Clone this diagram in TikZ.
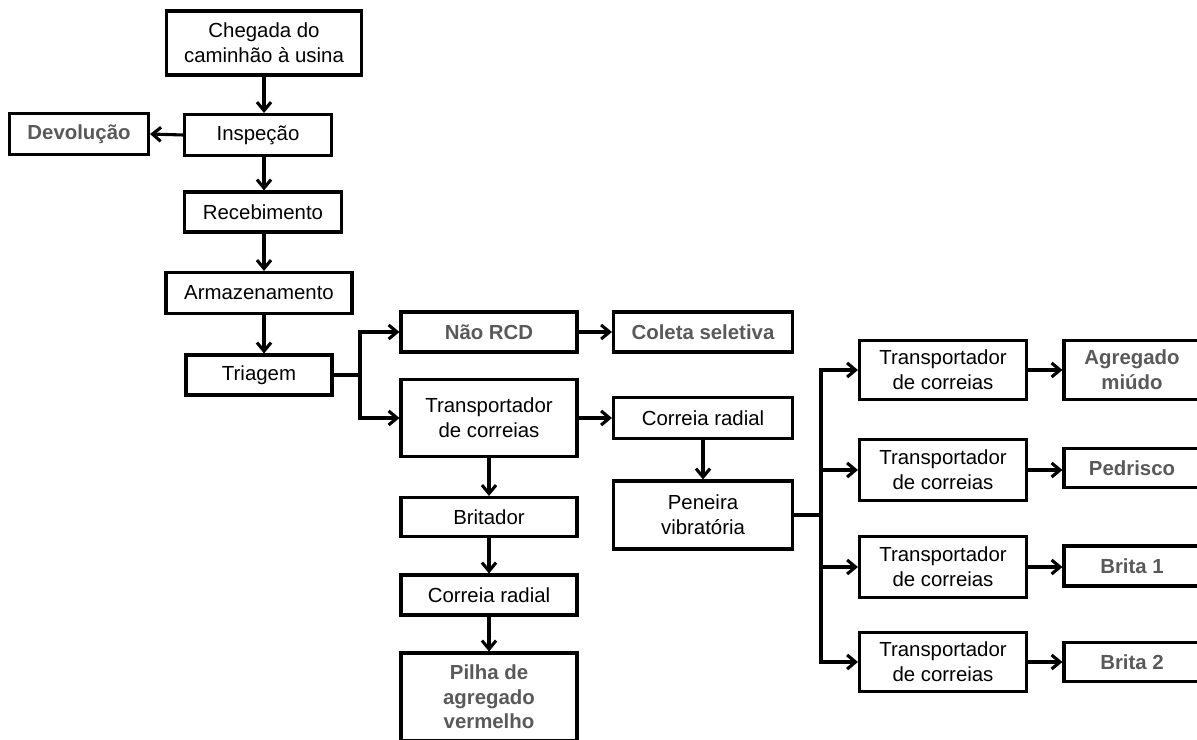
\documentclass[tikz,border=0pt]{standalone}
\usepackage{fontspec}
\setmainfont{Liberation Sans}
\usetikzlibrary{arrows.meta}
\begin{document}
\begin{tikzpicture}[x=0.025cm,y=-0.025cm,line width=2.2pt]
  \tikzset{BoxStyle/.style 2 args = {shape          = rectangle,
                                 draw           = black,
                                 text           = black,
                                 align          = center,
                                 inner sep      = 0pt,
                                 minimum width  = #1*0.025cm,
                                 minimum height = #2*0.025cm,
                                 font           = \fontsize{14.5}{17.5}\selectfont}}
  \tikzset{EndStyle/.style   = {text           = black!65,
                                 font           = \fontsize{14.5}{17.5}\selectfont\bfseries}}
  \tikzset{EdgeStyle/.style  = {draw           = black,
                                 -{Straight Barb[length=6pt,width=10pt]}}}

\path[use as bounding box] (0,0) rectangle (1197,740);

\node (cheg)     at (264,43)   [BoxStyle={195}{64}] {Chegada do\\caminhão à usina};
\node (insp)     at (258,135)  [BoxStyle={147}{41}] {Inspeção};
\node (devol)    at (79,134)   [BoxStyle={139}{41},EndStyle] {Devolução};
\node (receb)    at (263,212)  [BoxStyle={157}{40}] {Recebimento};
\node (armaz)    at (259,293)  [BoxStyle={186}{41}] {Armazenamento};
\node (triag)    at (259,375)  [BoxStyle={146}{40}] {Triagem};

\node (naoRCD)   at (489,332)  [BoxStyle={176}{40},EndStyle] {Não RCD};
\node (coleta)   at (703,332)  [BoxStyle={179}{40},EndStyle] {Coleta seletiva};
\node (transp)   at (489,418)  [BoxStyle={176}{77}] {Transportador\\de correias};
\node (correiaR) at (703,418)  [BoxStyle={179}{41}] {Correia radial};
\node (peneira)  at (703,515)  [BoxStyle={179}{68}] {Peneira\\vibratória};
\node (britador) at (489,517)  [BoxStyle={176}{39}] {Britador};
\node (correiaB) at (489,595)  [BoxStyle={176}{40}] {Correia radial};
\node (pilha)    at (489,697)  [BoxStyle={176}{88},EndStyle] {Pilha de\\agregado\\vermelho};

\node (T1)       at (943,370)  [BoxStyle={167}{59}] {Transportador\\de correias};
\node (T2)       at (943,470)  [BoxStyle={167}{61}] {Transportador\\de correias};
\node (T3)       at (943,567)  [BoxStyle={167}{61}] {Transportador\\de correias};
\node (T4)       at (943,662)  [BoxStyle={167}{59}] {Transportador\\de correias};
\node (agreg)    at (1132,370) [BoxStyle={136}{59},EndStyle] {Agregado\\miúdo};
\node (pedr)     at (1132,468) [BoxStyle={136}{39},EndStyle] {Pedrisco};
\node (brita1)   at (1132,566) [BoxStyle={136}{40},EndStyle] {Brita 1};
\node (brita2)   at (1132,662) [BoxStyle={136}{39},EndStyle] {Brita 2};

\coordinate (S1) at (360,375);
\coordinate (S2) at (821,515);

\draw[EdgeStyle] (cheg.south) -- (cheg.south |- insp.north);
\draw[EdgeStyle] (insp.west) -- (devol.east);
\draw[EdgeStyle] (insp.south -| cheg.south) -- (receb.north -| cheg.south);
\draw[EdgeStyle] (receb.south -| cheg.south) -- (armaz.north -| cheg.south);
\draw[EdgeStyle] (armaz.south -| cheg.south) -- (triag.north -| cheg.south);

\draw (triag.east) -- (S1);
\draw[EdgeStyle] (S1) |- (naoRCD.west);
\draw[EdgeStyle] (S1) |- (transp.west);
\draw[EdgeStyle] (naoRCD.east) -- (coleta.west);
\draw[EdgeStyle] (transp.east) -- (correiaR.west);
\draw[EdgeStyle] (correiaR.south) -- (peneira.north);
\draw[EdgeStyle] (transp.south) -- (britador.north);
\draw[EdgeStyle] (britador.south) -- (correiaB.north);
\draw[EdgeStyle] (correiaB.south) -- (pilha.north);

\draw (peneira.east) -- (S2);
\draw[EdgeStyle] (S2) |- (T1.west);
\draw[EdgeStyle] (S2) |- (T2.west);
\draw[EdgeStyle] (S2) |- (T3.west);
\draw[EdgeStyle] (S2) |- (T4.west);
\draw[EdgeStyle] (T1.east) -- (agreg.west);
\draw[EdgeStyle] (T2.east) -- (T2.east -| pedr.west);
\draw[EdgeStyle] (T3.east) -- (T3.east -| brita1.west);
\draw[EdgeStyle] (T4.east) -- (brita2.west);
\end{tikzpicture}
\end{document}
